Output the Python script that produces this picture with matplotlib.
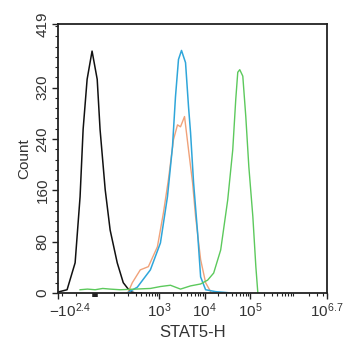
import numpy as np
import matplotlib.pyplot as plt
import matplotlib.transforms as mtrans
from matplotlib.ticker import FixedLocator, NullFormatter

plt.rcParams['font.family'] = ['Liberation Sans', 'DejaVu Sans']
plt.rcParams['mathtext.fontset'] = 'custom'
plt.rcParams['mathtext.rm'] = 'Liberation Sans'
plt.rcParams['mathtext.it'] = 'Liberation Sans:italic'

# histogram traces (fluorescence value, count)
black_x = [-300, -158, -105, -79, -63, -42, -16, 11, 26, 53, 79, 117, 159, 227, 293, 400]
black_y = [0, 5, 47, 150, 255, 333, 377, 333, 255, 161, 98, 47, 16, 2, 0, 0]

blue_x = [195, 325, 631, 1052, 1503, 1941, 2261, 2634, 3069, 3767, 4388, 4860, 5664, 6950, 8110, 10450, 17400, 37500]
blue_y = [0, 9, 36, 78, 150, 228, 306, 364, 378, 359, 290, 250, 172, 94, 25, 5, 2, 0]

orange_x = [200, 252, 378, 570, 902, 1225, 1581, 2042, 2504, 2917, 3580, 4388, 5383, 6281, 8110, 10450, 13490]
orange_y = [0, 16, 36, 41, 72, 125, 177, 239, 262, 259, 275, 223, 172, 119, 52, 16, 2]

green_x = [-79, -40, 0, 40, 79, 136, 293, 631, 1052, 1750, 2917, 4860, 8110, 11590, 15740, 22490,
           32140, 41500, 48400, 53570, 59300, 69180, 80540, 93970, 115300, 134300, 148600]
green_y = [5, 6, 5, 7, 6, 5, 6, 7, 10, 12, 6, 11, 14, 20, 31, 67,
           145, 223, 302, 344, 348, 338, 275, 197, 119, 41, 0]

xticks = [-10 ** 2.4, 0, 1e3, 1e4, 1e5, 10 ** 6.7]
xticklabels = [r'$-10^{2.4}$', '', r'$10^{3}$', r'$10^{4}$', r'$10^{5}$', r'$10^{6.7}$']
yticks = [0, 80, 160, 240, 320, 419]

fig = plt.figure(figsize=(3.45, 3.5), dpi=100)
ax = fig.add_axes([0.168, 0.163, 0.78, 0.768])

ax.plot(black_x, black_y, color='#111111', lw=1.1)
ax.plot(orange_x, orange_y, color='#f0a27a', lw=1.0)
ax.plot(blue_x, blue_y, color='#2fa6da', lw=1.1)
ax.plot(green_x, green_y, color='#5cc95c', lw=1.0)

ax.set_xscale('symlog', linthresh=100, linscale=0.378)
ax.set_xlim(-10 ** 2.4, 10 ** 6.7)
ax.set_ylim(0, 419)

ax.set_xticks(xticks)
ax.set_xticklabels(xticklabels, fontsize=11, color='#333333')
minor_x = [-200, -100, 100] + [k * d for d in (100, 1000, 1e4, 1e5, 1e6) for k in range(2, 10) if k * d < 10 ** 6.7]
ax.xaxis.set_minor_locator(FixedLocator(minor_x))
ax.xaxis.set_minor_formatter(NullFormatter())

ax.set_yticks(yticks)
ax.set_yticklabels([str(v) for v in yticks], fontsize=11, rotation=90, va='center', color='#333333')
ax.yaxis.set_minor_locator(FixedLocator(np.arange(16, 419, 16)))

ax.tick_params(which='major', direction='out', length=4, width=1.0, color='#222222', pad=2)
ax.tick_params(which='minor', direction='out', length=2.5, width=0.8, color='#222222')
for s in ax.spines.values():
    s.set_linewidth(1.3)
    s.set_color('#222222')

# zero marker on the x axis is a short thick bar
zt = ax.xaxis.get_major_ticks()[1]
zt.tick1line.set_markeredgewidth(4)
zt.tick1line.set_markersize(3)

# left tick label sits to the right of its tick
lab = ax.get_xticklabels()[0]
lab.set_transform(lab.get_transform() + mtrans.ScaledTranslation(12 / 100, 0, fig.dpi_scale_trans))

ax.set_xlabel('STAT5-H', fontsize=12, labelpad=4, color='#333333')
ax.set_ylabel('Count', fontsize=11, labelpad=3, color='#333333')

fig.savefig('out.png', dpi=100, facecolor='white')
